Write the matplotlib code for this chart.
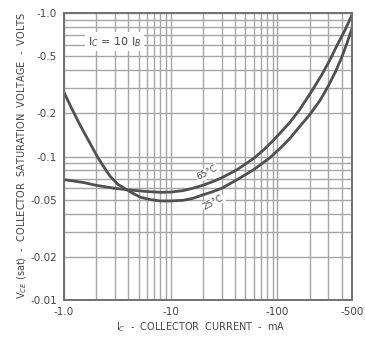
import matplotlib
matplotlib.use("Agg")
import matplotlib.pyplot as plt
from matplotlib.ticker import FixedLocator, LogLocator, NullFormatter

plt.rcParams['font.family'] = ['Liberation Sans Narrow', 'DejaVu Sans']

# Collector current (mA) and saturation voltage (V), shown as magnitudes
ic_25 = [1, 1.15, 1.4, 1.75, 2.05, 2.4, 2.7, 3.2, 3.9, 4.5, 5.2, 6.5, 8, 10, 13, 16,
         20, 25, 30, 42, 60, 85, 110, 130, 160, 200, 250, 300, 350, 400, 450, 500]
vce_25 = [0.28, 0.225, 0.168, 0.124, 0.100, 0.083, 0.073, 0.064, 0.0585, 0.055, 0.052,
          0.050, 0.049, 0.049, 0.0495, 0.051, 0.054, 0.057, 0.060, 0.069, 0.081, 0.098,
          0.117, 0.133, 0.16, 0.195, 0.245, 0.31, 0.39, 0.49, 0.62, 0.78]

ic_65 = [1, 1.5, 2, 3, 4, 6, 8, 10, 13, 16, 20, 25, 30, 42, 60, 75, 90, 110, 130, 160,
         200, 260, 310, 360, 430, 500]
vce_65 = [0.069, 0.066, 0.063, 0.060, 0.0585, 0.057, 0.0563, 0.0565, 0.0578, 0.060,
          0.063, 0.067, 0.071, 0.081, 0.097, 0.112, 0.128, 0.150, 0.172, 0.21, 0.27,
          0.37, 0.47, 0.59, 0.76, 0.97]

x_ticks = [1, 10, 100, 500]
x_labels = ["-1.0", "-10", "-100", "-500"]
y_ticks = [0.01, 0.02, 0.05, 0.1, 0.2, 0.5, 1.0]
y_labels = ["-0.01", "-0.02", "-0.05", "-0.1", "-0.2", "-0.5", "-1.0"]

grid_c = "#a6a6a6"
curve_c = "#505050"
text_c = "#454545"

fig = plt.figure(figsize=(3.65, 3.39), dpi=100)
ax = fig.add_axes([64 / 365, 1 - 300 / 339, 288 / 365, 287 / 339])
ax.set_xscale("log")
ax.set_yscale("log")
ax.set_xlim(1, 500)
ax.set_ylim(0.01, 1.0)

ax.xaxis.set_minor_locator(LogLocator(base=10, subs=range(2, 10)))
ax.yaxis.set_minor_locator(LogLocator(base=10, subs=range(2, 10)))
ax.xaxis.set_major_locator(FixedLocator(x_ticks))
ax.yaxis.set_major_locator(FixedLocator(y_ticks))
ax.set_xticklabels(x_labels)
ax.set_yticklabels(y_labels)
ax.xaxis.set_minor_formatter(NullFormatter())
ax.yaxis.set_minor_formatter(NullFormatter())
ax.tick_params(which="both", length=0, colors=text_c, labelsize=7.5, pad=5)

ax.grid(True, which="both", color=grid_c, linewidth=1.0)
for s in ax.spines.values():
    s.set_color("#707070")
    s.set_linewidth(1.4)

ax.plot(ic_25, vce_25, color=curve_c, linewidth=2.0, solid_joinstyle="round")
ax.plot(ic_65, vce_65, color=curve_c, linewidth=2.0, solid_joinstyle="round")

box = dict(facecolor="white", edgecolor="none", pad=0.5)
ax.text(3.0, 0.63, "I$_C$ = 10 I$_B$", fontsize=8, color=text_c,
        ha="center", va="center", bbox=dict(facecolor="white", edgecolor="none", pad=2))
ax.text(22, 0.077, "65°C", fontsize=6.5, color=text_c, rotation=28,
        ha="center", va="center", bbox=box)
ax.text(25, 0.048, "25°C", fontsize=6.5, color=text_c, rotation=28,
        ha="center", va="center", bbox=box)

fig.text(201 / 365, 1 - 327 / 339, "I$_C$  -  COLLECTOR  CURRENT  -  mA", fontsize=7,
         color=text_c, ha="center", va="center")
fig.text(22 / 365, 1 - 155 / 339,
         "V$_{CE}$ (sat)  -  COLLECTOR  SATURATION  VOLTAGE  -  VOLTS",
         fontsize=7, color=text_c, ha="center", va="center", rotation=90)

fig.savefig("out.png", dpi=100, facecolor="white")
